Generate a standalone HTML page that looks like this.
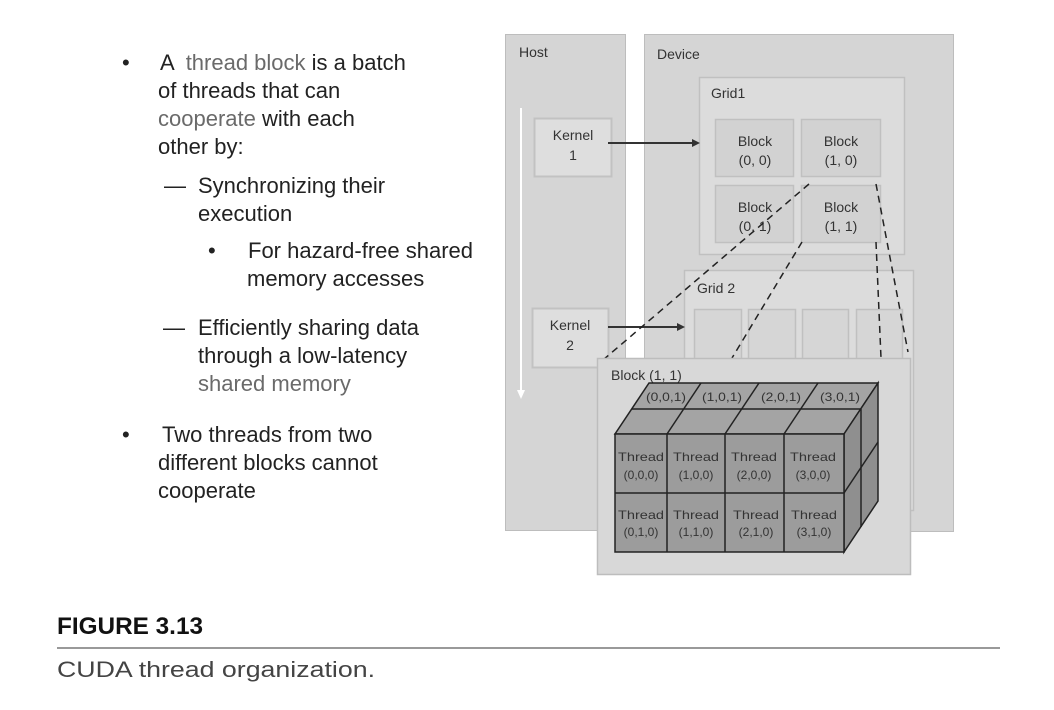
<!DOCTYPE html>
<html><head><meta charset="utf-8"><style>
body{margin:0;background:#fff;width:1054px;height:710px;overflow:hidden;position:relative;font-family:"Liberation Sans",Arial,sans-serif;}
.t{position:absolute;font-size:22px;color:#222;white-space:nowrap;line-height:28px;}
.g{color:#6a6a6a}
</style></head><body>
<div class="t" style="left:122px;top:49px">•</div>
<div class="t" style="left:160px;top:49px">A &nbsp;<span class="g">thread block</span> is a batch</div>
<div class="t" style="left:158px;top:77px">of threads that can</div>
<div class="t" style="left:158px;top:105px"><span class="g">cooperate</span> with each</div>
<div class="t" style="left:158px;top:133px">other by:</div>
<div class="t" style="left:164px;top:172px">—</div>
<div class="t" style="left:198px;top:172px">Synchronizing their</div>
<div class="t" style="left:198px;top:200px">execution</div>
<div class="t" style="left:208px;top:237px">•</div>
<div class="t" style="left:248px;top:237px">For hazard-free shared</div>
<div class="t" style="left:247px;top:265px">memory accesses</div>
<div class="t" style="left:163px;top:314px">—</div>
<div class="t" style="left:198px;top:314px">Efficiently sharing data</div>
<div class="t" style="left:198px;top:342px">through a low-latency</div>
<div class="t" style="left:198px;top:370px"><span class="g">shared memory</span></div>
<div class="t" style="left:122px;top:421px">•</div>
<div class="t" style="left:162px;top:421px">Two threads from two</div>
<div class="t" style="left:158px;top:449px">different blocks cannot</div>
<div class="t" style="left:158px;top:477px">cooperate</div>

<svg width="1054" height="710" style="position:absolute;left:0;top:0" font-family="Liberation Sans, Arial, sans-serif">
<!-- Host / Device -->
<rect x="505.5" y="34.5" width="120" height="496" fill="#d5d5d5" stroke="#bdbdbd"/>
<rect x="644.5" y="34.5" width="309" height="497" fill="#d5d5d5" stroke="#bdbdbd"/>
<text x="519" y="57" font-size="14" fill="#333">Host</text>
<text x="657" y="59" font-size="14" fill="#333">Device</text>
<!-- host timeline -->
<line x1="521" y1="108" x2="521" y2="392" stroke="#fff" stroke-width="2"/>
<polygon points="517,390 525,390 521,399" fill="#fff"/>
<!-- Kernel boxes -->
<rect x="534.5" y="118.5" width="77" height="58" fill="#dedede" stroke="#c2c2c2" stroke-width="2"/>
<text x="573" y="140" font-size="14" fill="#333" text-anchor="middle">Kernel</text>
<text x="573" y="160" font-size="14" fill="#333" text-anchor="middle">1</text>
<rect x="532.5" y="308.5" width="76" height="59" fill="#dedede" stroke="#c2c2c2" stroke-width="2"/>
<text x="570" y="330" font-size="14" fill="#333" text-anchor="middle">Kernel</text>
<text x="570" y="350" font-size="14" fill="#333" text-anchor="middle">2</text>
<!-- Grid1 -->
<rect x="699.5" y="77.5" width="205" height="177" fill="#dcdcdc" stroke="#c0c0c0" stroke-width="1.5"/>
<text x="711" y="98" font-size="14" fill="#333">Grid1</text>
<g fill="#d2d2d2" stroke="#c0c0c0" stroke-width="1.5">
<rect x="715.5" y="119.5" width="78" height="57"/>
<rect x="801.5" y="119.5" width="79" height="57"/>
<rect x="715.5" y="185.5" width="78" height="57"/>
<rect x="801.5" y="185.5" width="79" height="57"/>
</g>
<g font-size="14" fill="#333" text-anchor="middle">
<text x="755" y="146">Block</text><text x="755" y="165">(0, 0)</text>
<text x="841" y="146">Block</text><text x="841" y="165">(1, 0)</text>
<text x="755" y="212">Block</text><text x="755" y="231">(0, 1)</text>
<text x="841" y="212">Block</text><text x="841" y="231">(1, 1)</text>
</g>
<!-- Grid2 -->
<rect x="684.5" y="270.5" width="229" height="240" fill="#dcdcdc" stroke="#c0c0c0" stroke-width="1.5"/>
<text x="697" y="293" font-size="14" fill="#333">Grid 2</text>
<g fill="#d6d6d6" stroke="#c0c0c0" stroke-width="1.5">
<rect x="694.5" y="309.5" width="47" height="60"/>
<rect x="748.5" y="309.5" width="47" height="60"/>
<rect x="802.5" y="309.5" width="46" height="60"/>
<rect x="856.5" y="309.5" width="46" height="60"/>
</g>
<!-- arrows -->
<line x1="608" y1="143" x2="693" y2="143" stroke="#333" stroke-width="2"/>
<polygon points="692,139 700,143 692,147" fill="#333"/>
<line x1="608" y1="327" x2="678" y2="327" stroke="#333" stroke-width="2"/>
<polygon points="677,323 685,327 677,331" fill="#333"/>
<!-- dashed -->
<g stroke="#222" stroke-width="1.5" stroke-dasharray="7,5" fill="none">
<line x1="809" y1="184" x2="603" y2="360"/>
<line x1="802" y1="242" x2="732" y2="358"/>
<line x1="876" y1="184" x2="908" y2="352"/>
<line x1="876" y1="242" x2="881" y2="358"/>
</g>
<!-- Block (1,1) panel -->
<rect x="597.5" y="358.5" width="313" height="216" fill="#d8d8d8" stroke="#bdbdbd" stroke-width="1.5"/>
<text x="611" y="380" font-size="14" fill="#333">Block (1, 1)</text>
<!-- cube -->
<g stroke="#222" stroke-width="1.5">
<polygon points="615,434 844,434 878,383 649,383" fill="#a4a4a4"/>
<polygon points="844,434 878,383 878,501 844,552" fill="#8f8f8f"/>
<rect x="615" y="434" width="229" height="118" fill="#9c9c9c"/>
<line x1="632" y1="409" x2="861" y2="409"/>
<line x1="667" y1="434" x2="701" y2="383"/>
<line x1="725" y1="434" x2="759" y2="383"/>
<line x1="784" y1="434" x2="818" y2="383"/>
<line x1="861" y1="409" x2="861" y2="527"/>
<line x1="844" y1="493" x2="878" y2="442"/>
<line x1="667" y1="434" x2="667" y2="552"/>
<line x1="725" y1="434" x2="725" y2="552"/>
<line x1="784" y1="434" x2="784" y2="552"/>
<line x1="615" y1="493" x2="844" y2="493"/>
</g>
<g font-size="12" fill="#333" text-anchor="middle">
<text x="666" y="401" textLength="40" lengthAdjust="spacingAndGlyphs">(0,0,1)</text>
<text x="722" y="401" textLength="40" lengthAdjust="spacingAndGlyphs">(1,0,1)</text>
<text x="781" y="401" textLength="40" lengthAdjust="spacingAndGlyphs">(2,0,1)</text>
<text x="840" y="401" textLength="40" lengthAdjust="spacingAndGlyphs">(3,0,1)</text>
<text x="641" y="461" textLength="46" lengthAdjust="spacingAndGlyphs">Thread</text>
<text x="641" y="479">(0,0,0)</text>
<text x="696" y="461" textLength="46" lengthAdjust="spacingAndGlyphs">Thread</text>
<text x="696" y="479">(1,0,0)</text>
<text x="754" y="461" textLength="46" lengthAdjust="spacingAndGlyphs">Thread</text>
<text x="754" y="479">(2,0,0)</text>
<text x="813" y="461" textLength="46" lengthAdjust="spacingAndGlyphs">Thread</text>
<text x="813" y="479">(3,0,0)</text>
<text x="641" y="519" textLength="46" lengthAdjust="spacingAndGlyphs">Thread</text>
<text x="641" y="536">(0,1,0)</text>
<text x="696" y="519" textLength="46" lengthAdjust="spacingAndGlyphs">Thread</text>
<text x="696" y="536">(1,1,0)</text>
<text x="756" y="519" textLength="46" lengthAdjust="spacingAndGlyphs">Thread</text>
<text x="756" y="536">(2,1,0)</text>
<text x="814" y="519" textLength="46" lengthAdjust="spacingAndGlyphs">Thread</text>
<text x="814" y="536">(3,1,0)</text>
</g>
<!-- caption -->
<text x="57" y="634" font-size="24" font-weight="bold" fill="#111" textLength="146" lengthAdjust="spacingAndGlyphs">FIGURE 3.13</text>
<line x1="57" y1="648" x2="1000" y2="648" stroke="#999" stroke-width="2"/>
<text x="57" y="677" font-size="22" fill="#444" textLength="318" lengthAdjust="spacingAndGlyphs">CUDA thread organization.</text>
</svg>
</body></html>
